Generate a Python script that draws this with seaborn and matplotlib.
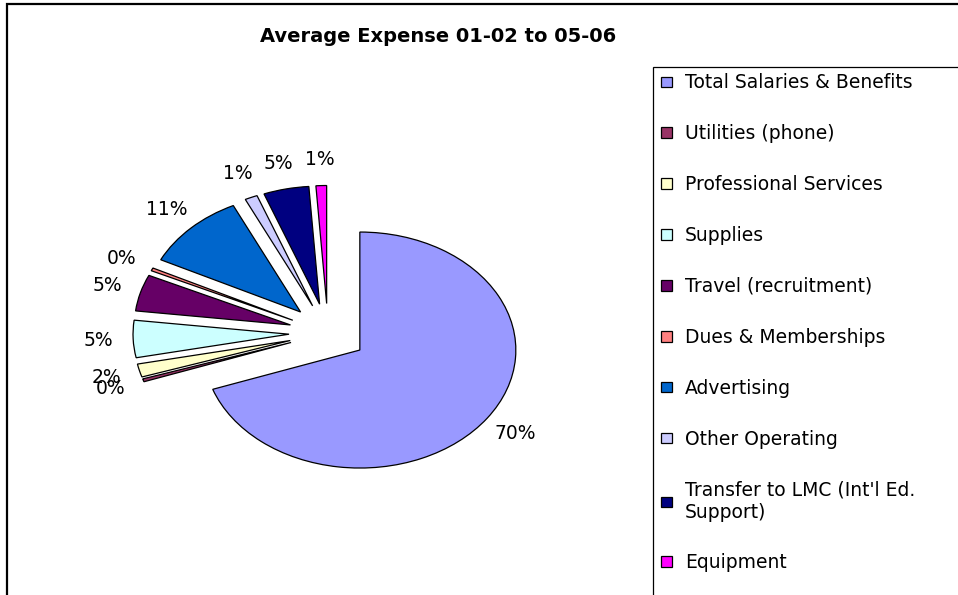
import matplotlib
matplotlib.use("Agg")
import matplotlib.pyplot as plt
from matplotlib.patches import Rectangle
import seaborn as sns

# --- Data ---
categories = [
    "Total Salaries & Benefits",
    "Utilities (phone)",
    "Professional Services",
    "Supplies",
    "Travel (recruitment)",
    "Dues & Memberships",
    "Advertising",
    "Other Operating",
    "Transfer to LMC (Int'l Ed.\nSupport)",
    "Equipment",
]
shares = [69.6, 0.4, 1.8, 5.1, 5.0, 0.4, 10.6, 1.3, 4.7, 1.1]
title = "Average Expense 01-02 to 05-06"

# --- Styling ---
slice_colors = ["#9999FF", "#993366", "#FFFFCC", "#CCFFFF", "#660066",
                "#FF8080", "#0066CC", "#CCCCFF", "#000080", "#FF00FF"]
explode = [0.25] * len(shares)
FONT_SIZE = 13.5
W, H = 958, 595
# pie centre and radii in pixels (reference pie is stretched horizontally)
CX, CY = 328, 333
RX, RY = 156, 118

sns.set_theme(style="white")
plt.rcParams["font.family"] = ["DejaVu Sans"]
plt.rcParams["text.color"] = "black"

fig = plt.figure(figsize=(W / 100, H / 100), dpi=100)
fig.patch.set_facecolor("white")

ax = fig.add_axes([0, 0, 1, 1])
wedges, _, pct_texts = ax.pie(
    shares,
    colors=slice_colors,
    explode=explode,
    startangle=90,
    counterclock=False,
    autopct="%1.0f%%",
    pctdistance=1.22,
    wedgeprops=dict(edgecolor="black", linewidth=0.9),
    textprops=dict(fontsize=FONT_SIZE, color="black"),
)
ax.set_aspect("auto")
ax.set_xlim(-CX / RX, (W - CX) / RX)
ax.set_ylim(-(H - CY) / RY, CY / RY)
ax.axis("off")

# outer chart border (runs off the right and bottom edges)
fig.patches.append(Rectangle((7 / W, -0.1), 2, 1.1 - 4 / H, transform=fig.transFigure,
                             fill=False, edgecolor="black", linewidth=1.6))
# legend border
fig.patches.append(Rectangle((653 / W, -0.1), 2, 1.1 - 67 / H, transform=fig.transFigure,
                             fill=False, edgecolor="black", linewidth=0.9))

leg = fig.legend(
    wedges, categories,
    loc="upper left",
    bbox_to_anchor=(653 / W, 1 - 66 / H),
    frameon=False,
    fontsize=FONT_SIZE,
    handlelength=0.6,
    handleheight=0.5,
    handletextpad=0.7,
    labelspacing=1.7,
    borderpad=0.4,
    borderaxespad=0,
)
for t in leg.get_texts():
    t.set_color("black")

fig.text(438 / W, 1 - 37 / H, title, ha="center", va="center",
         fontsize=14, fontweight="bold", color="black")

fig.savefig("out.png", dpi=100)
